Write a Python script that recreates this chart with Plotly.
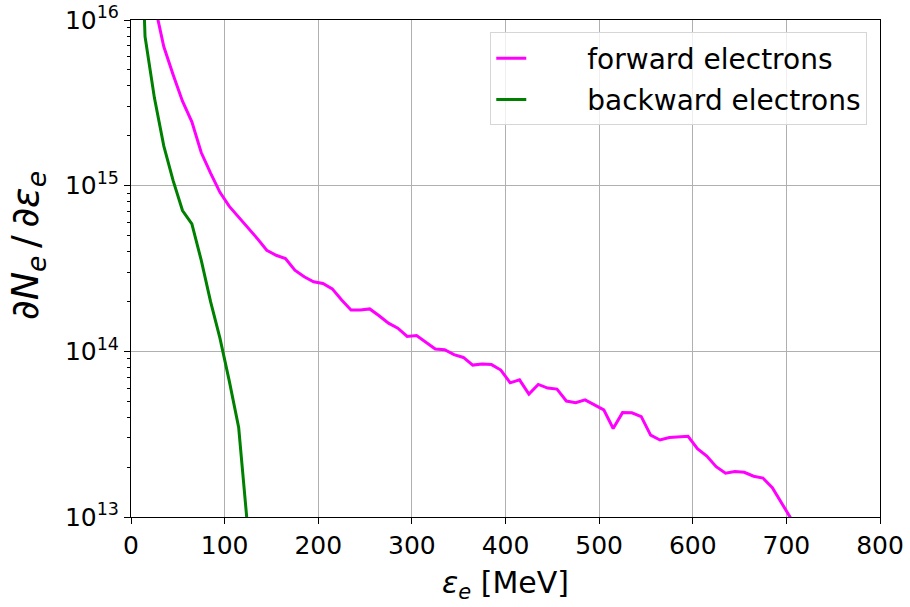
import numpy as np
import plotly.graph_objects as go

# Energy bin centers (MeV)
fwd_x = [5, 15, 25, 35, 45, 55, 65, 75, 85, 95, 105, 115, 125, 135, 145, 155, 165, 175,
         185, 195, 205, 215, 225, 235, 245, 255, 265, 275, 285, 295, 305, 315, 325, 335,
         345, 355, 365, 375, 385, 395, 405, 415, 425, 435, 445, 455, 465, 475, 485, 495,
         505, 515, 525, 535, 545, 555, 565, 575, 585, 595, 605, 615, 625, 635, 645, 655,
         665, 675, 685, 695, 705, 715]
# log10 of dN/de for forward electrons
fwd_log = [17.0, 16.5, 16.1, 15.84, 15.67, 15.51, 15.385, 15.20, 15.076, 14.96, 14.875,
           14.81, 14.75, 14.68, 14.61, 14.58, 14.56, 14.49, 14.45, 14.42, 14.41, 14.377,
           14.31, 14.25, 14.25, 14.256, 14.215, 14.17, 14.14, 14.09, 14.095, 14.054,
           14.014, 14.01, 13.98, 13.963, 13.917, 13.923, 13.92, 13.887, 13.81, 13.828,
           13.742, 13.80, 13.778, 13.772, 13.70, 13.69, 13.707, 13.677, 13.647, 13.534,
           13.63, 13.629, 13.606, 13.494, 13.465, 13.48, 13.483, 13.487, 13.413, 13.368,
           13.304, 13.264, 13.274, 13.27, 13.246, 13.235, 13.177, 13.086, 12.99, 12.7]

bwd_x = [5, 15, 25, 35, 45, 55, 65, 75, 85, 95, 105, 115, 125]
bwd_log = [17.5, 15.90, 15.53, 15.24, 15.03, 14.85, 14.77, 14.55, 14.30, 14.08, 13.82,
           13.54, 12.91]

fwd_y = [10 ** v for v in fwd_log]
bwd_y = [10 ** v for v in bwd_log]

x_ticks = [0, 100, 200, 300, 400, 500, 600, 700, 800]
y_exps = [13, 14, 15, 16]

fig = go.Figure()
fig.add_trace(go.Scatter(x=fwd_x, y=fwd_y, mode="lines",
                         name="\u2003\u2003forward electrons", legendgroup="f",
                         line=dict(color="#ff00ff", width=3)))
fig.add_trace(go.Scatter(x=bwd_x, y=bwd_y, mode="lines",
                         name="\u2003\u2003backward electrons", legendgroup="b",
                         line=dict(color="#008000", width=3)))

minor_vals = [m * 10 ** e for e in [13, 14, 15] for m in range(2, 10)]

fig.update_layout(
    width=910, height=607,
    margin=dict(l=131, r=30, t=20, b=90, autoexpand=False),
    paper_bgcolor="white", plot_bgcolor="white",
    font=dict(family="DejaVu Sans", size=25, color="black"),
    showlegend=True,
    legend=dict(x=0.983, y=0.975, xanchor="right", yanchor="top",
                bordercolor="#d6d6d6", borderwidth=1, bgcolor="rgba(255,255,255,0.8)",
                font=dict(size=28), traceorder="grouped", tracegroupgap=2),
    xaxis=dict(range=[0, 800], tickvals=x_ticks, ticktext=[str(v) for v in x_ticks],
               showgrid=True, gridcolor="#b0b0b0", gridwidth=1,
               showline=True, linecolor="black", linewidth=1, mirror=True,
               ticks="outside", ticklen=6, tickcolor="black",
               zeroline=False, automargin=False,
               title=dict(text="<i>ε</i><sub><i>e</i></sub> [MeV]", font=dict(size=30),
                          standoff=12)),
    yaxis=dict(type="log", range=[13, 16],
               tickvals=[10 ** e for e in y_exps],
               ticktext=["10<sup>%d</sup>" % e for e in y_exps],
               showgrid=True, gridcolor="#b0b0b0", gridwidth=1,
               showline=True, linecolor="black", linewidth=1, mirror=True,
               ticks="outside", ticklen=6, tickcolor="black", automargin=False,
               minor=dict(tickvals=minor_vals, ticks="outside", ticklen=3,
                          tickcolor="black", showgrid=False)),
    annotations=[dict(text="∂<i>N</i><sub><i>e</i></sub>\u2009/\u2009∂<i>ε</i><sub><i>e</i></sub>",
                      textangle=-90, xref="paper", yref="paper",
                      x=(28 - 131) / 749, y=(517 - 245) / 497,
                      xanchor="center", yanchor="middle", showarrow=False,
                      font=dict(size=38))],
)

fig.write_html("out.html")
